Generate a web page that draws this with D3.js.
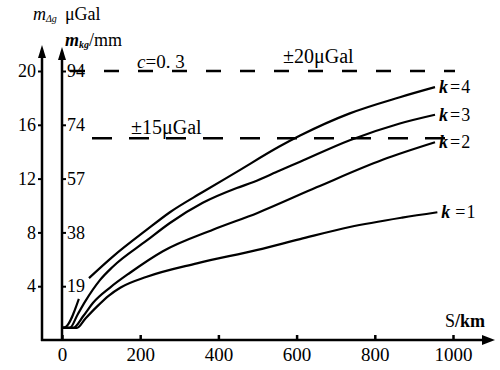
<!DOCTYPE html>
<html>
<head>
<meta charset="utf-8">
<script src="https://cdn.jsdelivr.net/npm/d3@7"></script>
<style>
  body { margin: 0; background: #fff; }
  text { font-family: 'Liberation Serif', 'Times New Roman', Times, 'DejaVu Serif', serif !important; }
</style>
</head>
<body>
<svg id="chart" width="500" height="370"></svg>
<script>
// tick labels
var xTicks = [0, 200, 400, 600, 800, 1000];
var yTicks = [4, 8, 12, 16, 20];
var mmTicks = [19, 38, 57, 74, 94];

// curves, S (km) vs m (μGal); null = break in the line
var k1 = [[0,0.9],[38,0.9],[60,1.6],[90,2.5],[120,3.3],[150,3.9],[217,4.7],[345,5.7],[500,6.7],[609,7.5],[736,8.4],[870,9.1],[960,9.5]];
var k2 = [[0,0.9],[28,0.9],[55,1.8],[79,2.75],[123,3.9],[174,5.0],[258,6.6],[386,8.2],[500,9.45],[651,11.35],[820,13.4],[954,14.7]];
var k3 = [[0,0.9],[20,0.9],[40,1.9],[59,2.85],[97,4.45],[130,5.45],[217,7.4],[276,8.7],[360,10.2],[447,11.3],[490,11.75],[557,12.6],[609,13.25],[736,14.85],[864,16.1],[954,16.75]];
var k4 = [[0,0.9],[8,0.95],[43,3.05],null,[69,4.6],[130,6.2],[217,8.2],[276,9.5],[360,11.0],[447,12.5],[557,14.4],[609,15.2],[736,16.85],[864,18.05],[954,18.8]];
var curves = [k1, k2, k3, k4];
var curveNames = ["1", "2", "3", "4"];

// limit lines
var limits = [20, 15];

var svg = d3.select("#chart");
var x = d3.scaleLinear().domain([0, 1000]).range([62, 453]);
var y = d3.scaleLinear().domain([0, 20]).range([340, 71]);

// x axis
var xAxis = svg.append("g")
  .attr("transform", "translate(0," + y(0) + ")")
  .call(d3.axisBottom(x).tickValues(xTicks).tickSize(-5).tickPadding(8).tickFormat(d3.format("d")));
xAxis.select(".domain").remove();
xAxis.selectAll(".tick line").attr("stroke", "#000").attr("stroke-width", 2.5);
xAxis.selectAll(".tick text").attr("font-size", 19).attr("fill", "#000");
svg.append("line").attr("x1", 41).attr("x2", 484).attr("y1", y(0)).attr("y2", y(0))
  .attr("stroke", "#000").attr("stroke-width", 2.5);
svg.append("path").attr("d", "M482,335 L495,340 L482,345 Z").attr("fill", "#000");

// outer y axis (μGal)
var yAxis = svg.append("g")
  .attr("transform", "translate(42,0)")
  .call(d3.axisLeft(y).tickValues(yTicks).tickSize(4).tickPadding(2));
yAxis.select(".domain").remove();
yAxis.selectAll(".tick line").attr("stroke", "#000").attr("stroke-width", 2);
yAxis.selectAll(".tick text").attr("font-size", 18).attr("fill", "#000");
svg.append("line").attr("x1", 42).attr("x2", 42).attr("y1", y(0) + 1).attr("y2", 56)
  .attr("stroke", "#000").attr("stroke-width", 2.5);
svg.append("path").attr("d", "M38,58 L42,45 L46,58 Z").attr("fill", "#000");

// inner y axis (mm)
var y2Axis = svg.append("g")
  .attr("transform", "translate(62,0)")
  .call(d3.axisRight(y).tickValues(yTicks).tickSize(4).tickPadding(1)
    .tickFormat(function(d, i) { return mmTicks[i]; }));
y2Axis.select(".domain").remove();
y2Axis.selectAll(".tick line").attr("stroke", "#000").attr("stroke-width", 2);
y2Axis.selectAll(".tick text").attr("font-size", 18).attr("fill", "#000");
svg.append("line").attr("x1", 62).attr("x2", 62).attr("y1", y(0)).attr("y2", 58)
  .attr("stroke", "#000").attr("stroke-width", 2.5);
svg.append("path").attr("d", "M58,60 L62,47 L66,60 Z").attr("fill", "#000");

// dashed limits
svg.append("line").attr("x1", 70).attr("x2", 455).attr("y1", y(limits[0])).attr("y2", y(limits[0]))
  .attr("stroke", "#000").attr("stroke-width", 2.5).attr("stroke-dasharray", "15,19");
svg.append("line").attr("x1", 92).attr("x2", 458).attr("y1", y(limits[1])).attr("y2", y(limits[1]))
  .attr("stroke", "#000").attr("stroke-width", 2.5).attr("stroke-dasharray", "20,17");

// curves
var line = d3.line()
  .defined(function(d) { return d !== null; })
  .x(function(d) { return x(d[0]); })
  .y(function(d) { return y(d[1]); })
  .curve(d3.curveMonotoneX);

svg.selectAll(".curve")
  .data(curves)
  .enter()
  .append("path")
  .attr("class", "curve")
  .attr("d", line)
  .attr("fill", "none")
  .attr("stroke", "#000")
  .attr("stroke-width", 2.2);

// k labels
svg.selectAll(".klab")
  .data(curves)
  .enter()
  .append("text")
  .attr("class", "klab")
  .attr("x", function(d) { return x(d[d.length - 1][0]) + 4; })
  .attr("y", function(d) { return y(d[d.length - 1][1]) + 6; })
  .attr("font-size", 18)
  .each(function(d, i) {
    var t = d3.select(this);
    t.append("tspan").attr("font-style", "italic").attr("font-weight", "bold").text("k");
    t.append("tspan").attr("dx", i === 0 ? 5 : 2).text("=");
    t.append("tspan").attr("dx", 1).text(curveNames[i]);
  });

// annotations
var c = svg.append("text").attr("x", 137).attr("y", 68).attr("font-size", 19);
c.append("tspan").attr("font-style", "italic").text("c");
c.append("tspan").text("=0. 3");

svg.append("text").attr("x", 283).attr("y", 63).attr("font-size", 20).text("±20μGal");
svg.append("text").attr("x", 131).attr("y", 134).attr("font-size", 20).text("±15μGal");

// axis titles
var t1 = svg.append("text").attr("x", 33).attr("y", 20).attr("font-size", 18);
t1.append("tspan").attr("font-style", "italic").text("m");
t1.append("tspan").attr("font-size", 10).attr("font-style", "italic").attr("dy", 2).text("Δg");
t1.append("tspan").attr("dy", -2).attr("dx", 8).text("μGal");

var t2 = svg.append("text").attr("x", 65).attr("y", 46).attr("font-size", 18);
t2.append("tspan").attr("font-style", "italic").attr("font-weight", "bold").text("m");
t2.append("tspan").attr("font-size", 10).attr("font-style", "italic").attr("font-weight", "bold").attr("dy", 2).text("kg");
t2.append("tspan").attr("dy", -2).text("/mm");

var t3 = svg.append("text").attr("x", 445).attr("y", 327).attr("font-size", 18);
t3.append("tspan").text("S");
t3.append("tspan").text("/km").attr("font-weight", "bold");
</script>
</body>
</html>
